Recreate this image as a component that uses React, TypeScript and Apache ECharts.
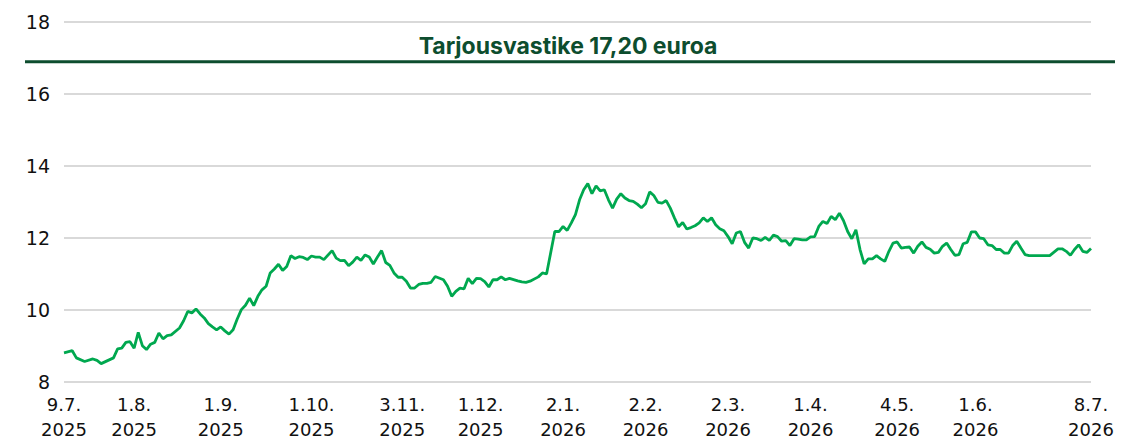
import React, { useEffect, useRef } from "react";
import * as echarts from "echarts";

// Number of trading sessions shown (9.7.2025 – 8.7.2026)
const sessionCount = 250;

// x-axis tick labels and the session they sit on
const tickSession = [0, 17, 38, 60, 82, 101, 121, 141, 161, 181, 202, 221, 249];
const tickDays = ["9.7.", "1.8.", "1.9.", "1.10.", "3.11.", "1.12.", "2.1.", "2.2.", "2.3.", "1.4.", "4.5.", "1.6.", "8.7."];
const tickYears = ["2025", "2025", "2025", "2025", "2025", "2025", "2026", "2026", "2026", "2026", "2026", "2026", "2026"];

// session index of each read point
const sessionIdx = [
  0, 2, 3, 5, 7, 8, 9, 12, 13, 14, 15, 16, 17, 18, 19, 20, 21, 22, 23, 24,
  25, 26, 28, 29, 30, 31, 32, 33, 34, 35, 36, 37, 38, 39, 40, 41, 42, 43, 44, 45,
  46, 47, 48, 49, 50, 51, 52, 53, 54, 55, 56, 57, 58, 59, 60, 61, 62, 63, 65, 66,
  67, 68, 69, 70, 71, 72, 73, 74, 75, 76, 77, 78, 79, 80, 81, 82, 83, 84, 85, 86,
  87, 88, 89, 90, 92, 93, 94, 95, 96, 97, 98, 99, 100, 101, 102, 103, 104, 105, 106, 107,
  108, 110, 111, 112, 113, 115, 116, 117, 119, 120, 121, 122, 123, 124, 125, 126, 127, 128, 129, 130,
  131, 132, 133, 134, 135, 136, 137, 138, 139, 140, 141, 142, 143, 144, 145, 146, 147, 148, 149, 150,
  151, 152, 153, 154, 155, 156, 157, 158, 159, 160, 161, 162, 163, 164, 165, 166, 167, 168, 169, 170,
  171, 172, 173, 174, 175, 176, 177, 178, 179, 180, 181, 182, 183, 184, 185, 186, 187, 188, 189, 190,
  191, 192, 193, 194, 195, 196, 197, 198, 199, 200, 201, 202, 203, 204, 205, 206, 207, 208, 209, 210,
  211, 212, 213, 214, 215, 216, 217, 218, 219, 220, 221, 222, 223, 224, 225, 226, 227, 228, 229, 230,
  231, 232, 233, 234, 239, 241, 242, 243, 244, 245, 246, 247, 248, 249,
];

// share price, euros
const price = [
  8.81, 8.87, 8.67, 8.57, 8.64, 8.6, 8.51, 8.67, 8.92, 8.94, 9.1, 9.12, 8.94, 9.38, 9.01, 8.9, 9.05, 9.1, 9.36, 9.2,
  9.29, 9.31, 9.5, 9.7, 9.96, 9.92, 10.03, 9.89, 9.78, 9.62, 9.53, 9.45, 9.53, 9.42, 9.33, 9.45, 9.75, 10.01, 10.13, 10.33,
  10.12, 10.38, 10.56, 10.66, 11.03, 11.14, 11.27, 11.1, 11.21, 11.51, 11.43, 11.48, 11.46, 11.4, 11.5, 11.47, 11.47, 11.4, 11.65, 11.44,
  11.37, 11.38, 11.23, 11.33, 11.47, 11.38, 11.53, 11.47, 11.28, 11.47, 11.65, 11.32, 11.24, 11.03, 10.91, 10.91, 10.8, 10.61, 10.61, 10.71,
  10.74, 10.74, 10.77, 10.93, 10.84, 10.66, 10.38, 10.52, 10.61, 10.59, 10.88, 10.73, 10.88, 10.87, 10.79, 10.64, 10.84, 10.84, 10.92, 10.84,
  10.88, 10.81, 10.78, 10.77, 10.8, 10.92, 11.03, 11.0, 12.18, 12.18, 12.32, 12.21, 12.42, 12.65, 13.06, 13.34, 13.51, 13.23, 13.45, 13.31,
  13.34, 13.06, 12.83, 13.08, 13.23, 13.11, 13.04, 13.02, 12.94, 12.84, 12.95, 13.28, 13.18, 12.99, 12.97, 13.04, 12.83, 12.56, 12.31, 12.43,
  12.25, 12.29, 12.34, 12.42, 12.56, 12.46, 12.56, 12.37, 12.26, 12.2, 12.04, 11.84, 12.14, 12.18, 11.88, 11.72, 12.0, 11.98, 11.93, 12.02,
  11.93, 12.08, 12.04, 11.91, 11.93, 11.79, 11.98, 11.97, 11.95, 11.95, 12.03, 12.04, 12.32, 12.46, 12.4, 12.6, 12.51, 12.69, 12.48, 12.18,
  11.98, 12.23, 11.68, 11.28, 11.42, 11.42, 11.51, 11.42, 11.35, 11.63, 11.86, 11.89, 11.72, 11.74, 11.75, 11.58, 11.77, 11.89, 11.74, 11.69,
  11.58, 11.6, 11.77, 11.86, 11.68, 11.52, 11.54, 11.84, 11.88, 12.17, 12.17, 12.0, 11.98, 11.81, 11.79, 11.68, 11.68, 11.58, 11.58, 11.79,
  11.91, 11.72, 11.54, 11.51, 11.51, 11.7, 11.7, 11.63, 11.52, 11.68, 11.81, 11.63, 11.6, 11.71,
];

const offerLabel = "Tarjousvastike 17,20 euroa";

const AXIS_FONT = "'DejaVu Sans', sans-serif";
const TITLE_FONT = "Inter, 'Noto Sans', sans-serif";

export default function App() {
  const ref = useRef<HTMLDivElement>(null);
  useEffect(() => {
    document.body.style.margin = "0";
    if (!ref.current) return;
    const chart = echarts.init(ref.current, null, { renderer: "svg" });
    const sessions = Array.from({ length: sessionCount }, (_, i) => String(i));
    const tickMap = new Map<string, number>();
    tickSession.forEach((s, i) => tickMap.set(String(s), i));
    const data = sessionIdx.map((k, i) => [String(k), price[i]]);
    chart.setOption({
      animation: false,
      backgroundColor: "#ffffff",
      grid: {
        left: 64,
        right: 46,
        top: 22,
        bottom: 59,
        containLabel: false,
        outerBoundsMode: "none",
      },
      xAxis: {
        type: "category",
        data: sessions,
        boundaryGap: false,
        axisLine: { show: false },
        axisTick: { show: false },
        splitLine: { show: false },
        axisLabel: {
          interval: (_i: number, v: string) => tickMap.has(v),
          formatter: (v: string) => {
            const i = tickMap.get(v);
            return i === undefined ? "" : `{d|${tickDays[i]}}\n{y|${tickYears[i]}}`;
          },
          color: "#111111",
          margin: 5,
          rich: {
            d: { fontFamily: AXIS_FONT, fontSize: 18, lineHeight: 34, color: "#111111" },
            y: { fontFamily: AXIS_FONT, fontSize: 18, lineHeight: 16, color: "#111111" },
          },
        },
      },
      yAxis: {
        type: "value",
        min: 8,
        max: 18,
        interval: 2,
        axisLine: { show: false },
        axisTick: { show: false },
        splitLine: { lineStyle: { color: "#d9d9d9", width: 2 } },
        axisLabel: {
          fontFamily: AXIS_FONT,
          fontSize: 19,
          color: "#111111",
          margin: 14,
        },
      },
      graphic: [
        {
          type: "line",
          shape: { x1: 25, y1: 61.7, x2: 1115, y2: 61.7 },
          style: { stroke: "#0d4d2e", lineWidth: 3 },
          z: 10,
        },
        {
          type: "text",
          x: 568,
          y: 46,
          style: {
            text: offerLabel,
            fill: "#0d4d2e",
            fontFamily: TITLE_FONT,
            fontWeight: "bold",
            fontSize: 23,
            align: "center",
            verticalAlign: "middle",
          },
          z: 10,
        },
      ],
      series: [
        {
          type: "line",
          data,
          showSymbol: false,
          symbol: "none",
          lineStyle: { color: "#00a84f", width: 2.8 },
        },
      ],
    });
    return () => chart.dispose();
  }, []);
  return <div ref={ref} style={{ width: 1137, height: 441 }} />;
}
